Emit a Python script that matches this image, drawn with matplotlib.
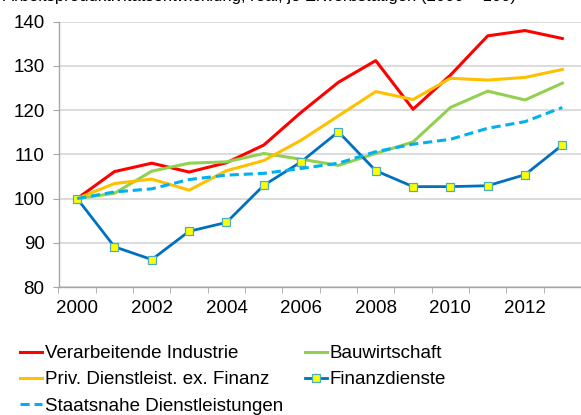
import matplotlib.pyplot as plt
import numpy as np

plt.rcParams['font.family'] = ['Liberation Sans', 'DejaVu Sans']

years = list(range(2000, 2014))
verarbeitende = [100, 106.1, 108.0, 106.0, 108.1, 112.1, 119.5, 126.3, 131.2, 120.2, 127.9, 136.8, 138.0, 136.2]
bauwirtschaft = [100, 101.2, 106.2, 108.0, 108.3, 110.2, 108.9, 107.5, 110.2, 112.8, 120.6, 124.3, 122.3, 126.1]
priv_dienst = [100, 103.4, 104.4, 101.9, 106.3, 108.6, 113.2, 118.7, 124.2, 122.4, 127.2, 126.8, 127.4, 129.2]
finanz = [100, 89.1, 86.2, 92.6, 94.6, 103.0, 108.3, 115.1, 106.3, 102.7, 102.7, 102.9, 105.4, 112.1]
staatsnahe = [100, 101.5, 102.2, 104.3, 105.3, 105.7, 106.8, 108.0, 110.6, 112.3, 113.4, 115.9, 117.4, 120.6]

fig = plt.figure(figsize=(5.81, 4.15), dpi=100)
ax = fig.add_axes([58.5 / 581, 1 - 287 / 415, (581 - 58.5) / 581, (287 - 21.7) / 415])

x = np.arange(len(years))
l1, = ax.plot(x, verarbeitende, color='#FF0000', lw=2.2, label='Verarbeitende Industrie')
l2, = ax.plot(x, bauwirtschaft, color='#92D050', lw=2.2, label='Bauwirtschaft')
l3, = ax.plot(x, priv_dienst, color='#FFC000', lw=2.2, label='Priv. Dienstleist. ex. Finanz')
l4, = ax.plot(x, finanz, color='#0070C0', lw=2.0, marker='s', ms=5.5,
              mfc='#FFFF00', mec='#4BACC6', mew=0.9, label='Finanzdienste')
l5, = ax.plot(x, staatsnahe, color='#00B0F0', lw=2.2, ls=(0, (3, 1.6)), label='Staatsnahe Dienstleistungen')

ax.set_ylim(80, 140)
ax.set_yticks(range(80, 141, 10))
ax.set_xlim(-0.5, -0.5 + (581 - 58.5) / 37.7)
ax.set_xticks(x[::2])
ax.set_xticklabels([str(y) for y in years[::2]])
ax.set_xticks(np.arange(-0.5, 14, 1), minor=True)

ax.grid(axis='y', color='#D9D9D9', lw=1.3)
ax.set_axisbelow(True)
for s in ['top', 'right']:
    ax.spines[s].set_visible(False)
for s in ['left', 'bottom']:
    ax.spines[s].set_color('#A6A6A6')
    ax.spines[s].set_linewidth(1.0)

ax.tick_params(axis='y', length=4, color='#A6A6A6', labelsize=13.5, pad=6)
ax.tick_params(axis='x', which='major', length=0, labelsize=13.5, pad=9)
ax.tick_params(axis='x', which='minor', length=4, color='#A6A6A6')

# title is cut off at the top edge in the original, only descenders show
fig.text(3 / 581, 1 - 0.5 / 415, 'Arbeitsproduktivitätsentwicklung, real, je Erwerbstätigen (2000 = 100)',
         fontsize=12, va='baseline', ha='left')

fig.legend([l1, l3, l5, l2, l4],
           [h.get_label() for h in [l1, l3, l5, l2, l4]],
           loc='upper left', bbox_to_anchor=(20 / 581, 1 - 345 / 415),
           ncol=2, frameon=False, fontsize=13.5, borderpad=0, borderaxespad=0,
           handlelength=1.2, handletextpad=0.12, columnspacing=1.17, labelspacing=0.49)

fig.savefig('out.png', dpi=100)
